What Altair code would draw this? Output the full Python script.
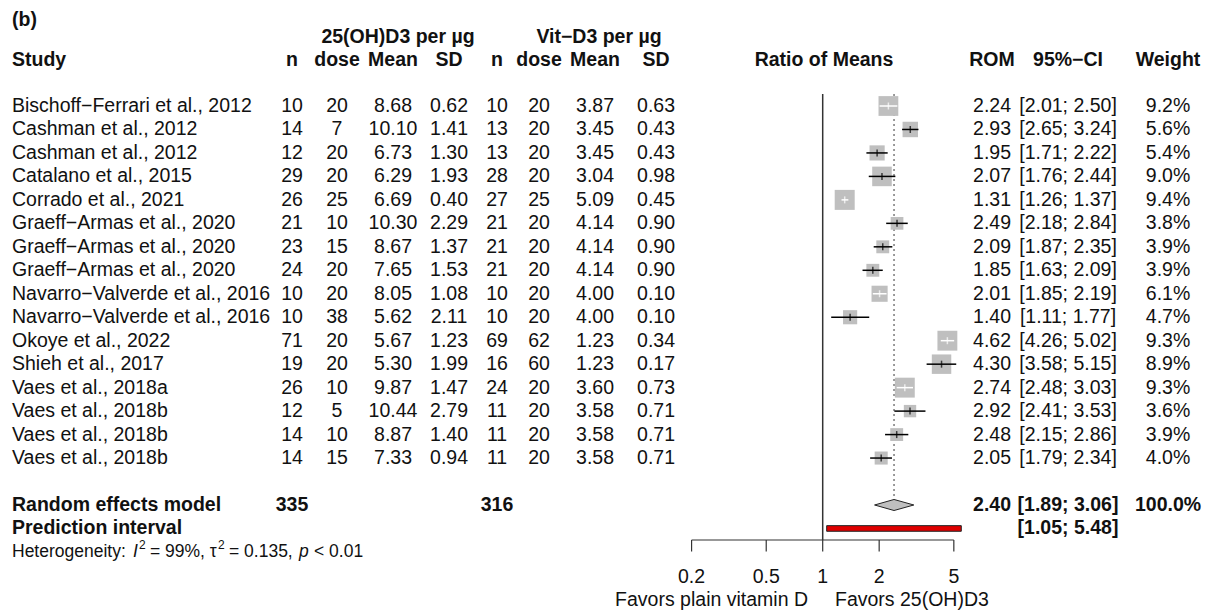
import altair as alt
import pandas as pd
import numpy as np

# ---------------- data ----------------
studies = [
    "Bischoff\u2212Ferrari et al., 2012", "Cashman et al., 2012", "Cashman et al., 2012",
    "Catalano et al., 2015", "Corrado et al., 2021", "Graeff\u2212Armas et al., 2020",
    "Graeff\u2212Armas et al., 2020", "Graeff\u2212Armas et al., 2020",
    "Navarro\u2212Valverde et al., 2016", "Navarro\u2212Valverde et al., 2016",
    "Okoye et al., 2022", "Shieh et al., 2017", "Vaes et al., 2018a",
    "Vaes et al., 2018b", "Vaes et al., 2018b", "Vaes et al., 2018b",
]
n1 = [10, 14, 12, 29, 26, 21, 23, 24, 10, 10, 71, 19, 26, 12, 14, 14]
dose1 = [20, 7, 20, 20, 25, 10, 15, 20, 20, 38, 20, 20, 10, 5, 10, 15]
mean1 = [8.68, 10.10, 6.73, 6.29, 6.69, 10.30, 8.67, 7.65, 8.05, 5.62, 5.67, 5.30, 9.87, 10.44, 8.87, 7.33]
sd1 = [0.62, 1.41, 1.30, 1.93, 0.40, 2.29, 1.37, 1.53, 1.08, 2.11, 1.23, 1.99, 1.47, 2.79, 1.40, 0.94]
n2 = [10, 13, 13, 28, 27, 21, 21, 21, 10, 10, 69, 16, 24, 11, 11, 11]
dose2 = [20, 20, 20, 20, 25, 20, 20, 20, 20, 20, 62, 60, 20, 20, 20, 20]
mean2 = [3.87, 3.45, 3.45, 3.04, 5.09, 4.14, 4.14, 4.14, 4.00, 4.00, 1.23, 1.23, 3.60, 3.58, 3.58, 3.58]
sd2 = [0.63, 0.43, 0.43, 0.98, 0.45, 0.90, 0.90, 0.90, 0.10, 0.10, 0.34, 0.17, 0.73, 0.71, 0.71, 0.71]
rom = [2.24, 2.93, 1.95, 2.07, 1.31, 2.49, 2.09, 1.85, 2.01, 1.40, 4.62, 4.30, 2.74, 2.92, 2.48, 2.05]
ci_lo = [2.01, 2.65, 1.71, 1.76, 1.26, 2.18, 1.87, 1.63, 1.85, 1.11, 4.26, 3.58, 2.48, 2.41, 2.15, 1.79]
ci_hi = [2.50, 3.24, 2.22, 2.44, 1.37, 2.84, 2.35, 2.09, 2.19, 1.77, 5.02, 5.15, 3.03, 3.53, 2.86, 2.34]
weight = [9.2, 5.6, 5.4, 9.0, 9.4, 3.8, 3.9, 3.9, 6.1, 4.7, 9.3, 8.9, 9.3, 3.6, 3.9, 4.0]

re_label = "Random effects model"
re_n1, re_n2 = 335, 316
re_rom, re_lo, re_hi, re_weight = 2.40, 1.89, 3.06, 100.0
pi_label = "Prediction interval"
pi_lo, pi_hi = 1.05, 5.48
tick_values = [0.2, 0.5, 1, 2, 5]
tick_labels = ["0.2", "0.5", "1", "2", "5"]

# ---------------- layout ----------------
W, H = 1196, 597
PPD = 187.6      # px per decade on the ratio axis
X1 = 814.7       # plot-x of ratio 1
ROW0 = 98.0      # plot-y of first study row
ROWH = 23.47     # row height
FONT = "Liberation Sans"
FS = 19.5
TXT = "#111111"
SQ = "#BFBFBF"

x_dom = [10 ** (-X1 / PPD), 10 ** ((W - X1) / PPD)]
y_dom = [-ROW0 / ROWH, (H - ROW0) / ROWH]
xs = alt.Scale(type="log", domain=x_dom, nice=False)
ys = alt.Scale(domain=y_dom, reverse=True, nice=False, zero=False)


def py(page_y):
    return page_y - 8


def px(page_x):
    return page_x - 8


df = pd.DataFrame({
    "row": np.arange(len(studies)),
    "study": studies,
    "n1": [str(v) for v in n1],
    "dose1": [str(v) for v in dose1],
    "mean1": [f"{v:.2f}" for v in mean1],
    "sd1": [f"{v:.2f}" for v in sd1],
    "n2": [str(v) for v in n2],
    "dose2": [str(v) for v in dose2],
    "mean2": [f"{v:.2f}" for v in mean2],
    "sd2": [f"{v:.2f}" for v in sd2],
    "rom": rom,
    "lo": ci_lo,
    "hi": ci_hi,
    "weight": weight,
})
df["rom_t"] = [f"{v:.2f}" for v in rom]
df["ci_t"] = [f"[{a:.2f}; {b:.2f}]" for a, b in zip(ci_lo, ci_hi)]
df["w_t"] = [f"{v:.1f}%" for v in weight]
side = 20 * np.sqrt(df["weight"] / max(weight))
half_l = PPD * (np.log10(df["rom"]) - np.log10(df["lo"]))
half_r = PPD * (np.log10(df["hi"]) - np.log10(df["rom"]))
df["ci_col"] = np.where((half_l <= side / 2) & (half_r <= side / 2), "white", "black")

RE_ROW = len(studies) + 1
PI_ROW = RE_ROW + 1

summ = pd.DataFrame({
    "row": [RE_ROW, PI_ROW],
    "label": [re_label, pi_label],
    "n1": [str(re_n1), ""],
    "n2": [str(re_n2), ""],
    "rom_t": [f"{re_rom:.2f}", ""],
    "ci_t": [f"[{re_lo:.2f}; {re_hi:.2f}]", f"[{pi_lo:.2f}; {pi_hi:.2f}]"],
    "w_t": [f"{re_weight:.1f}%", ""],
})

Y = alt.Y("row:Q", scale=ys, axis=None)


def col_text(data, field, xpage, align="center", bold=False):
    return alt.Chart(data).mark_text(
        align=align, baseline="middle", font=FONT, fontSize=FS,
        fontWeight="bold" if bold else "normal", color=TXT,
    ).encode(x=alt.value(px(xpage)), y=Y, text=alt.Text(f"{field}:N"))


def label(text, xpage, ypage, align="center", bold=True, size=FS, style="normal"):
    return alt.Chart(pd.DataFrame({"t": [text]})).mark_text(
        align=align, baseline="middle", font=FONT, fontSize=size,
        fontWeight="bold" if bold else "normal", fontStyle=style, color=TXT,
    ).encode(x=alt.value(px(xpage)), y=alt.value(py(ypage)), text="t:N")


COLS = {"n1": 292, "dose1": 337, "mean1": 393, "sd1": 449, "n2": 497,
        "dose2": 539, "mean2": 595, "sd2": 656, "rom_t": 992, "ci_t": 1068, "w_t": 1168}

layers = []
# headers
layers.append(label("(b)", 12, 20, align="left"))
layers.append(label("25(OH)D3 per \u00b5g", 398, 37))
layers.append(label("Vit\u2212D3 per \u00b5g", 599, 37))
HY = 60
layers.append(label("Study", 12, HY, align="left"))
for name, key in [("n", "n1"), ("dose", "dose1"), ("Mean", "mean1"), ("SD", "sd1"),
                  ("n", "n2"), ("dose", "dose2"), ("Mean", "mean2"), ("SD", "sd2"),
                  ("ROM", "rom_t"), ("95%\u2212CI", "ci_t"), ("Weight", "w_t")]:
    layers.append(label(name, COLS[key], HY))
layers.append(label("Ratio of Means", 824, HY))

# study columns
layers.append(col_text(df, "study", 12, align="left"))
for key, xp in COLS.items():
    layers.append(col_text(df, key, xp))

# summary rows
layers.append(col_text(summ, "label", 12, align="left", bold=True))
for key in ["n1", "n2", "rom_t", "ci_t", "w_t"]:
    layers.append(col_text(summ, key, COLS[key], bold=True))

# heterogeneity line
HETY = 552
HS = 17.5
layers.append(label("Heterogeneity:", 12, HETY, align="left", bold=False, size=HS))
layers.append(label("I", 133, HETY, align="left", bold=False, size=HS, style="italic"))
layers.append(label("2", 139, HETY - 7, align="left", bold=False, size=12))
layers.append(label("= 99%, \u03c4", 150, HETY, align="left", bold=False, size=HS))
layers.append(label("2", 218, HETY - 7, align="left", bold=False, size=12))
layers.append(label("= 0.135,", 229, HETY, align="left", bold=False, size=HS))
layers.append(label("p", 299, HETY, align="left", bold=False, size=HS, style="italic"))
layers.append(label("< 0.01", 314, HETY, align="left", bold=False, size=HS))

# ---------------- forest part ----------------
X = lambda f: alt.X(f, scale=xs, axis=None)

# reference line at 1
layers.append(alt.Chart(pd.DataFrame({"v": [1.0]})).mark_rule(color="#333333", strokeWidth=1.5).encode(
    x=X("v:Q"), y=alt.value(py(94)), y2=alt.value(py(540))))
# dotted line at pooled estimate
layers.append(alt.Chart(pd.DataFrame({"v": [re_rom]})).mark_rule(
    color="#666666", strokeWidth=1.3, strokeDash=[2, 3]).encode(
    x=X("v:Q"), y=alt.value(py(94)), y2=alt.value(py(499))))

# squares
layers.append(alt.Chart(df).mark_square(color=SQ, filled=True, opacity=1).encode(
    x=X("rom:Q"), y=Y,
    size=alt.Size("weight:Q", scale=alt.Scale(domain=[0, max(weight)], range=[0, 400]), legend=None)))
# CI lines
layers.append(alt.Chart(df).mark_rule(strokeWidth=1.5).encode(
    x=X("lo:Q"), x2="hi:Q", y=Y, color=alt.Color("ci_col:N", scale=None)))
layers.append(alt.Chart(df).mark_tick(orient="vertical", size=7, thickness=1.5).encode(
    x=X("rom:Q"), y=Y, color=alt.Color("ci_col:N", scale=None)))

# diamond
DH = 0.235
dia = pd.DataFrame({"x": [re_lo, re_rom, re_hi],
                    "y": [RE_ROW, RE_ROW - DH, RE_ROW],
                    "y2": [RE_ROW, RE_ROW + DH, RE_ROW]})
layers.append(alt.Chart(dia).mark_area(color=SQ, stroke="#222222", strokeWidth=1, opacity=1).encode(
    x=X("x:Q"), y=alt.Y("y:Q", scale=ys, axis=None), y2="y2:Q"))

# prediction interval
PH = 0.12
pi = pd.DataFrame({"lo": [pi_lo], "hi": [pi_hi], "y": [PI_ROW - PH], "y2": [PI_ROW + PH]})
layers.append(alt.Chart(pi).mark_rect(color="#E00000", stroke="#222222", strokeWidth=1).encode(
    x=X("lo:Q"), x2="hi:Q", y=alt.Y("y:Q", scale=ys, axis=None), y2="y2:Q"))

# x axis
ticks = pd.DataFrame({"v": tick_values, "t": tick_labels})
layers.append(alt.Chart(pd.DataFrame({"a": [min(tick_values)], "b": [max(tick_values)]})).mark_rule(
    color="#333333", strokeWidth=1.2).encode(x=X("a:Q"), x2="b:Q", y=alt.value(py(540))))
layers.append(alt.Chart(ticks).mark_rule(color="#333333", strokeWidth=1.2).encode(
    x=X("v:Q"), y=alt.value(py(540)), y2=alt.value(py(551.5))))
layers.append(alt.Chart(ticks).mark_text(font=FONT, fontSize=FS, color=TXT, baseline="middle").encode(
    x=X("v:Q"), y=alt.value(py(577)), text="t:N"))
layers.append(label("Favors plain vitamin D", 808, 600, align="right", bold=False))
layers.append(label("Favors 25(OH)D3", 835, 600, align="left", bold=False))

chart = alt.layer(*layers).properties(
    width=W, height=H, padding=0, background="white"
).configure_view(stroke=None)

chart.save("out.html", embed_options={"renderer": "svg", "actions": False})
